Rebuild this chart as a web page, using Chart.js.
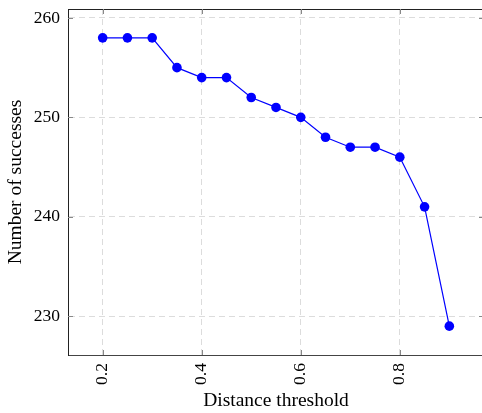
<!DOCTYPE html>
<html>
<head>
<meta charset="utf-8">
<script src="https://cdn.jsdelivr.net/npm/chart.js@4"></script>
<style>
  html, body { margin: 0; padding: 0; background: #fff; overflow: hidden; }
  #wrap { width: 482px; height: 413px; overflow: hidden; }
</style>
</head>
<body>
<div id="wrap"><canvas id="chart" width="492" height="413"></canvas></div>
<script>
// data
const thresholds = [0.2, 0.25, 0.3, 0.35, 0.4, 0.45, 0.5, 0.55, 0.6, 0.65, 0.7, 0.75, 0.8, 0.85, 0.9];
const successes = [258, 258, 258, 255, 254, 254, 252, 251, 250, 248, 247, 247, 246, 241, 229];
const xTicks = [0.2, 0.4, 0.6, 0.8];
const yTicks = [230, 240, 250, 260];

const serif = "'Liberation Serif', 'DejaVu Serif', serif";

// frame on top + inward tick marks (pgfplots style)
const framePlugin = {
    id: 'frame',
    afterDraw(chart) {
        const ctx = chart.ctx;
        const a = chart.chartArea;
        const xs = chart.scales.x, ys = chart.scales.y;
        ctx.save();
        ctx.strokeStyle = '#222';
        ctx.lineWidth = 1;
        ctx.beginPath();
        ctx.moveTo(a.left, Math.round(a.top) + 0.5);
        ctx.lineTo(a.right, Math.round(a.top) + 0.5);
        ctx.stroke();
        ctx.strokeStyle = '#888';
        ctx.beginPath();
        xTicks.forEach(v => {
            const px = Math.round(xs.getPixelForValue(v)) + 0.5;
            ctx.moveTo(px, a.bottom); ctx.lineTo(px, a.bottom - 5);
            ctx.moveTo(px, a.top); ctx.lineTo(px, a.top + 5);
        });
        yTicks.forEach(v => {
            const py = Math.round(ys.getPixelForValue(v)) + 0.5;
            ctx.moveTo(a.left, py); ctx.lineTo(a.left + 5, py);
            ctx.moveTo(a.right, py); ctx.lineTo(a.right - 5, py);
        });
        ctx.stroke();
        ctx.restore();
    }
};

const ctx = document.getElementById('chart').getContext('2d');
new Chart(ctx, {
    type: 'line',
    data: {
        datasets: [{
            data: thresholds.map((t, i) => ({ x: t, y: successes[i] })),
            borderColor: '#0000ff',
            backgroundColor: '#0000ff',
            borderWidth: 1.2,
            pointRadius: 4.8,
            pointBorderWidth: 0,
            tension: 0,
            fill: false
        }]
    },
    options: {
        responsive: false,
        animation: false,
        layout: { padding: { top: 9, right: 8, left: 0, bottom: 0 } },
        plugins: {
            legend: { display: false },
            tooltip: { enabled: false }
        },
        scales: {
            x: {
                type: 'linear',
                min: 0.13,
                max: 0.97,
                afterBuildTicks: s => { s.ticks = xTicks.map(v => ({ value: v })); },
                afterFit: s => { s.height = 58; s.paddingLeft = 0; s.paddingRight = 0; },
                ticks: {
                    minRotation: 90,
                    maxRotation: 90,
                    padding: 8,
                    color: '#000',
                    font: { family: serif, size: 17.5 },
                    callback: v => v.toFixed(1)
                },
                grid: {
                    color: '#dcdcdc',
                    drawTicks: false,
                    lineWidth: 1
                },
                border: { display: true, color: '#444', dash: [6, 4], width: 1 },
                title: {
                    display: true,
                    text: 'Distance threshold',
                    color: '#000',
                    font: { family: serif, size: 19.5 },
                    padding: { top: 0, bottom: 0 }
                }
            },
            y: {
                min: 226.1,
                max: 260.9,
                afterBuildTicks: s => { s.ticks = yTicks.map(v => ({ value: v })); },
                afterFit: s => { s.width = 68; s.paddingTop = 0; s.paddingBottom = 0; },
                ticks: {
                    padding: 8,
                    color: '#000',
                    font: { family: serif, size: 17.5 }
                },
                grid: {
                    color: '#dcdcdc',
                    drawTicks: false,
                    lineWidth: 1
                },
                border: { display: true, color: '#222', dash: [6, 4], width: 1 },
                title: {
                    display: true,
                    text: 'Number of successes',
                    color: '#000',
                    font: { family: serif, size: 19.5 },
                    padding: { top: 4, bottom: 0 }
                }
            }
        }
    },
    plugins: [framePlugin]
});
</script>
</body>
</html>
